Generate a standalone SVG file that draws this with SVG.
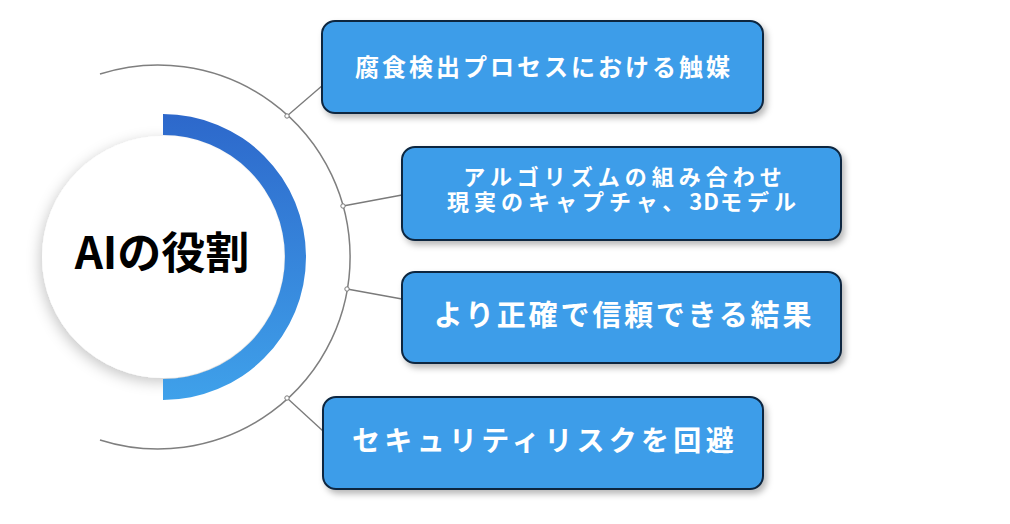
<svg xmlns="http://www.w3.org/2000/svg" width="1010" height="524" viewBox="0 0 1010 524">
  <defs>
    <linearGradient id="arcGrad" x1="0" y1="0" x2="0" y2="1">
      <stop offset="0" stop-color="#2D68CB"/>
      <stop offset="1" stop-color="#3FA1EA"/>
    </linearGradient>
    <filter id="circleShadow" x="-30%" y="-30%" width="160%" height="160%">
      <feDropShadow dx="-2" dy="4" stdDeviation="7" flood-color="#000" flood-opacity="0.22"/>
    </filter>
    <filter id="boxShadow" x="-10%" y="-20%" width="125%" height="150%">
      <feDropShadow dx="3" dy="4" stdDeviation="3" flood-color="#000" flood-opacity="0.28"/>
    </filter>
  </defs>
  <style>
    .box { fill: #3E9DE9; stroke: #0D2640; stroke-width: 2; filter: url(#boxShadow); }
    .lbl { fill: #FFFFFF; font-family: "Noto Sans CJK JP", "Noto Sans", sans-serif; font-weight: 700; text-anchor: middle; }
    .conn { stroke: #7A7A7A; stroke-width: 1.3; fill: none; }
    .dot { fill: #FFFFFF; stroke: #7A7A7A; stroke-width: 1; }
  </style>
  <rect width="1010" height="524" fill="#FFFFFF"/>

  <g id="center">
    <path d="M100,74 A192,192 0 1,1 100,440" fill="none" stroke="#7F7F7F" stroke-width="1.5"/>
    <circle cx="163" cy="257" r="121" fill="#FFFFFF" filter="url(#circleShadow)"/>
    <path d="M163,114 A143,143 0 0,1 163,400 L163,379 A122,122 0 0,0 163,135 Z" fill="url(#arcGrad)"/>
    <text x="162" y="269" font-family="Noto Sans CJK JP, Noto Sans, sans-serif" font-weight="700" font-size="44" fill="#000000" text-anchor="middle">AIの役割</text>
  </g>

  <g id="connectors">
    <line class="conn" x1="287" y1="116" x2="323" y2="85"/>
    <line class="conn" x1="343" y1="206" x2="402" y2="195"/>
    <line class="conn" x1="347" y1="289" x2="402" y2="299"/>
    <line class="conn" x1="287" y1="398" x2="323" y2="431"/>
    <circle class="dot" cx="287" cy="116" r="2.2"/>
    <circle class="dot" cx="343" cy="206" r="2.2"/>
    <circle class="dot" cx="347" cy="289" r="2.2"/>
    <circle class="dot" cx="287" cy="398" r="2.2"/>
  </g>

  <g id="node1">
    <rect class="box" x="322" y="21" width="441" height="92" rx="13"/>
    <text class="lbl" x="544" y="76" font-size="24" letter-spacing="3">腐食検出プロセスにおける触媒</text>
  </g>

  <g id="node2">
    <rect class="box" x="402" y="147" width="439" height="93" rx="13"/>
    <text class="lbl" font-size="22" letter-spacing="5"><tspan x="625" y="185">アルゴリズムの組み合わせ</tspan><tspan x="624" y="210">現実のキャプチャ、<tspan letter-spacing="1">3D</tspan>モデル</tspan></text>
  </g>

  <g id="node3">
    <rect class="box" x="402" y="272" width="439" height="91" rx="13"/>
    <text class="lbl" x="624" y="326" font-size="29" letter-spacing="2.8">より正確で信頼できる結果</text>
  </g>

  <g id="node4">
    <rect class="box" x="323" y="397" width="440" height="92" rx="13"/>
    <text class="lbl" x="545" y="451" font-size="28" letter-spacing="4.3">セキュリティリスクを回避</text>
  </g>
</svg>
